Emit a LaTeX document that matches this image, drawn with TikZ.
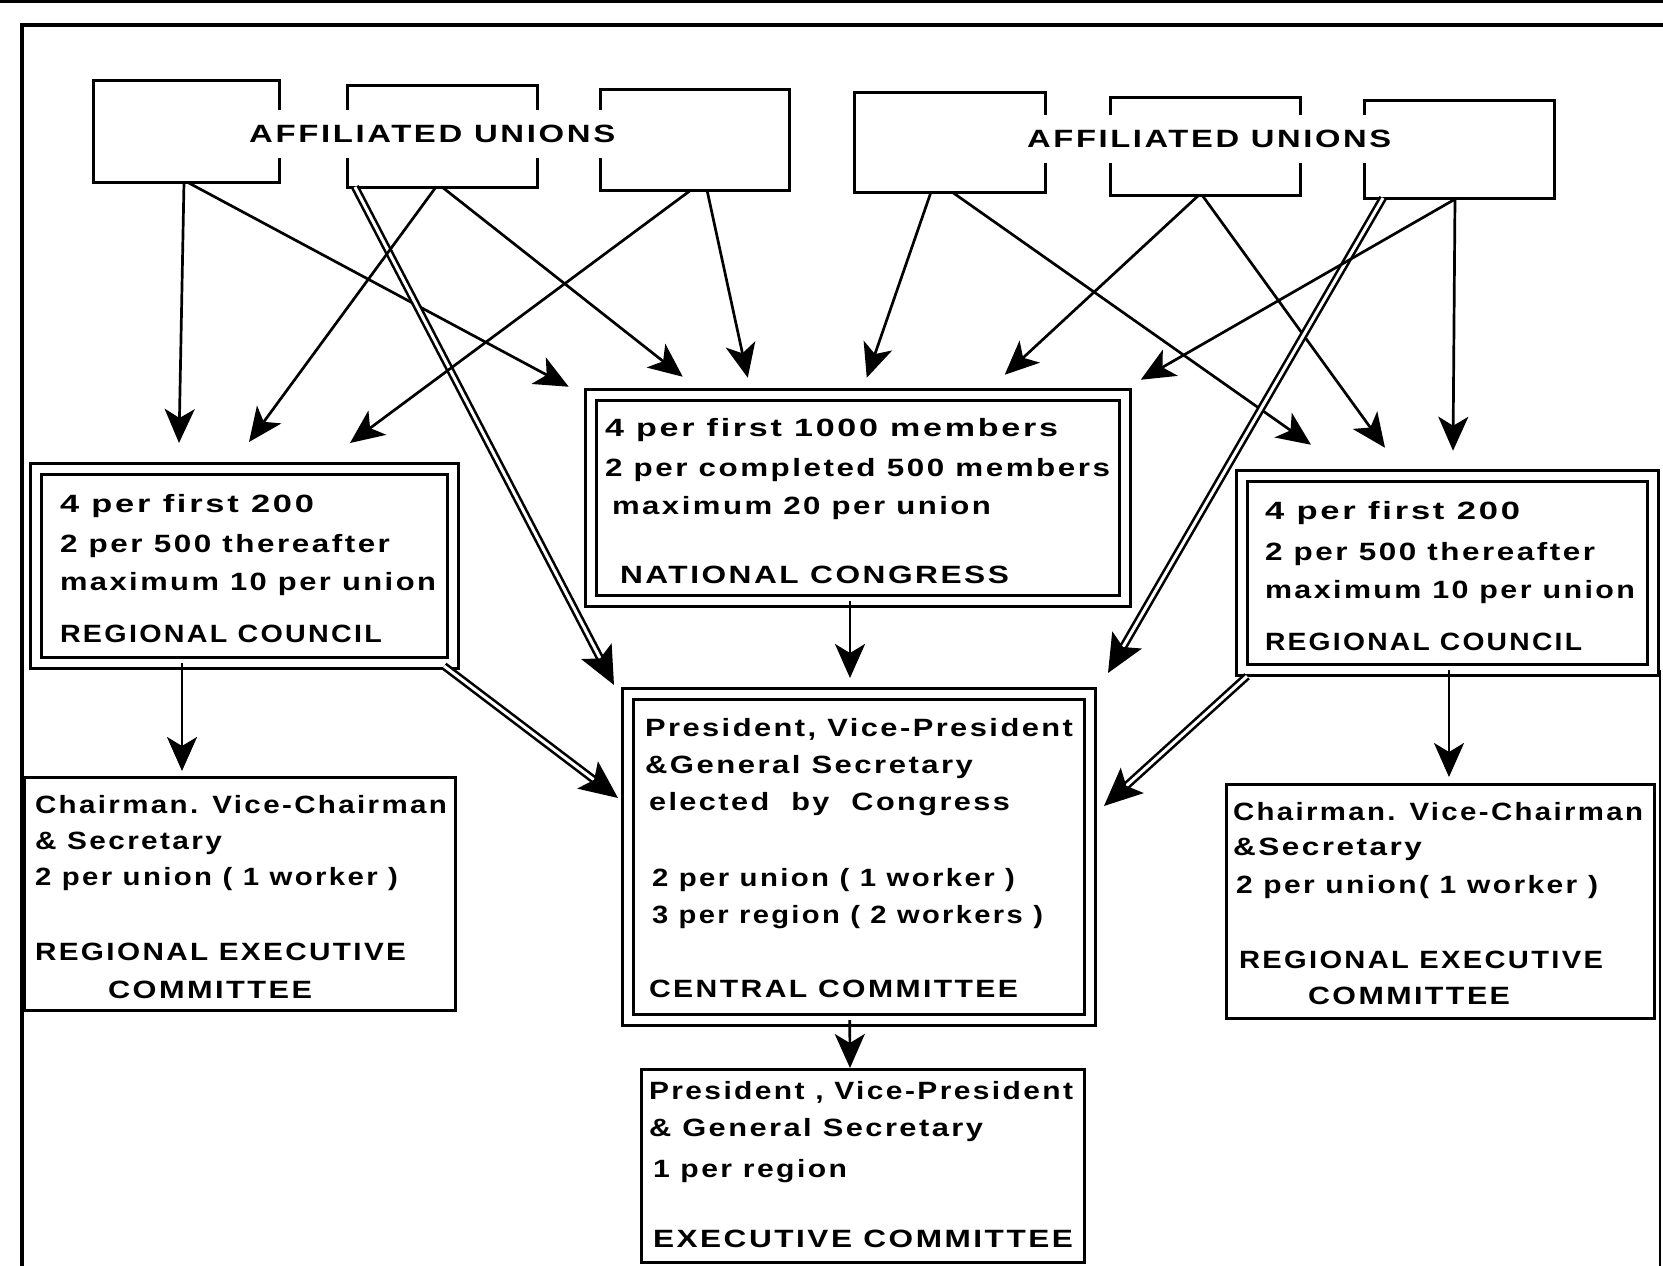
\documentclass[tikz,border=0pt]{standalone}
\usepackage{fontspec}
\usepackage{graphicx}
\setmainfont{Liberation Sans}[LetterSpace=8]
\usetikzlibrary{arrows.meta}
\newcommand{\fw}[2]{\resizebox{#1pt}{\height}{#2}}
\begin{document}
\begin{tikzpicture}[x=1pt,y=-1pt,
  font=\fontsize{25}{30}\selectfont\bfseries,
  ubox/.style={draw,line width=3pt,inner sep=0pt,outer sep=0pt},
  dbox/.style={draw,line width=3pt,double=white,double distance=8pt,inner sep=0pt,outer sep=0pt},
  txt/.style={anchor=base west,inner sep=0pt,outer sep=0pt},
  lab/.style={anchor=west,fill=white,inner xsep=3pt,inner ysep=0pt,minimum height=48pt},
  arr/.style={line width=2.7pt,-{Stealth[length=34pt,width=30pt,inset=9pt]}},
  darr/.style={line width=2.6pt,double=white,double distance=3pt,-{Stealth[length=38pt,width=34pt,inset=8pt]}}]
\useasboundingbox (0,0) rectangle (1663,1266);
% page rule and frame
\draw[line width=3pt] (0,1) -- (1663,1);
\draw[line width=3.5pt] (22,1266) -- (22,25) -- (1663,25);
\draw[line width=2.5pt] (1660,670) -- (1660,1266);

% affiliated unions boxes
\node[ubox,minimum width=186pt,minimum height=102pt] (u1) at (186,131) {};
\node[ubox,minimum width=190pt,minimum height=102pt] (u2) at (442,136) {};
\node[ubox,minimum width=189pt,minimum height=101pt] (u3) at (694.5,139.5) {};
\node[ubox,minimum width=191pt,minimum height=100pt] (u4) at (949.5,142) {};
\node[ubox,minimum width=190pt,minimum height=98pt] (u5) at (1205,146) {};
\node[ubox,minimum width=190pt,minimum height=98pt] (u6) at (1459,149) {};
\node[lab] (au1) at (246,134) {\fw{366}{AFFILIATED UNIONS}};
\node[lab] (au2) at (1024,139) {\fw{364}{AFFILIATED UNIONS}};

% boxes
\node[dbox,minimum width=534.5pt,minimum height=205.5pt] (nc) at (858,498) {};
\node[dbox,minimum width=417pt,minimum height=194pt] (lrc) at (244.5,566) {};
\node[dbox,minimum width=411pt,minimum height=194.5pt] (rrc) at (1447,573) {};
\node[dbox,minimum width=462.5pt,minimum height=326pt] (cc) at (858.75,857) {};
\node[ubox,minimum width=431pt,minimum height=233pt] (lrec) at (239.5,893.5) {};
\node[ubox,minimum width=428pt,minimum height=234pt] (rrec) at (1440,901) {};
\node[ubox,minimum width=443pt,minimum height=193pt] (ec) at (862.5,1165.5) {};

% national congress text
\node[txt] (nc1) at (605,436) {\fw{453}{4 per first 1000 members}};
\node[txt] (nc2) at (605,476) {\fw{505}{2 per completed 500 members}};
\node[txt] (nc3) at (612,514) {\fw{379}{maximum 20 per union}};
\node[txt] (nc4) at (620,583) {\fw{389}{NATIONAL CONGRESS}};

% left regional council
\node[txt] (lr1) at (60,512) {\fw{254}{4 per first 200}};
\node[txt] (lr2) at (60,552) {\fw{330}{2 per 500 thereafter}};
\node[txt] (lr3) at (60,590) {\fw{376}{maximum 10 per union}};
\node[txt] (lr4) at (60,642) {\fw{322}{REGIONAL COUNCIL}};

% right regional council
\node[txt] (rr1) at (1265,519) {\fw{255}{4 per first 200}};
\node[txt] (rr2) at (1265,560) {\fw{330}{2 per 500 thereafter}};
\node[txt] (rr3) at (1265,598) {\fw{370}{maximum 10 per union}};
\node[txt] (rr4) at (1265,650) {\fw{317}{REGIONAL COUNCIL}};

% left regional executive committee
\node[txt] (le1) at (35,813) {\fw{412}{Chairman. Vice-Chairman}};
\node[txt] (le2) at (35,849) {\fw{187}{\& Secretary}};
\node[txt] (le3) at (35,885) {\fw{363}{2 per union ( 1 worker )}};
\node[txt] (le4) at (35,960) {\fw{371}{REGIONAL EXECUTIVE}};
\node[txt] (le5) at (108,998) {\fw{204}{COMMITTEE}};

% right regional executive committee
\node[txt] (re1) at (1233,820) {\fw{410}{Chairman. Vice-Chairman}};
\node[txt] (re2) at (1233,855) {\fw{189}{\&Secretary}};
\node[txt] (re3) at (1236,893) {\fw{362}{2 per union( 1 worker )}};
\node[txt] (re4) at (1239,968) {\fw{364}{REGIONAL EXECUTIVE}};
\node[txt] (re5) at (1308,1004) {\fw{202}{COMMITTEE}};

% central committee
\node[txt] (cc1) at (645,736) {\fw{428}{President, Vice-President}};
\node[txt] (cc2) at (645,773) {\fw{328}{\&General Secretary}};
\node[txt] (cc3) at (649,810) {\fw{361}{elected\ \ by\ \ Congress}};
\node[txt] (cc4) at (652,886) {\fw{363}{2 per union ( 1 worker )}};
\node[txt] (cc5) at (652,923) {\fw{391}{3 per region ( 2 workers )}};
\node[txt] (cc6) at (649,997) {\fw{369}{CENTRAL COMMITTEE}};

% executive committee
\node[txt] (ec1) at (649,1099) {\fw{424}{President , Vice-President}};
\node[txt] (ec2) at (649,1136) {\fw{334}{\& General Secretary}};
\node[txt] (ec3) at (653,1177) {\fw{194}{1 per region}};
\node[txt] (ec4) at (653,1247) {\fw{420}{EXECUTIVE COMMITTEE}};

% arrows from unions
\draw[arr] ([xshift=91pt]u1.south west) -- ([xshift=143pt,yshift=26pt]lrc.north west);
\draw[arr] ([xshift=94pt]u1.south west) -- ([xshift=-22pt,yshift=8.5pt]nc.north west);
\draw[darr] ([xshift=8pt]u2.south west) -- ([xshift=-13.5pt,yshift=9pt]cc.north west);
\draw[arr] ([xshift=89pt]u2.south west) -- ([xshift=213pt,yshift=27pt]lrc.north west);
\draw[arr] ([xshift=95pt]u2.south west) -- ([xshift=92pt,yshift=18.5pt]nc.north west);
\draw[arr] ([xshift=91pt]u3.south west) -- ([xshift=314pt,yshift=26pt]lrc.north west);
\draw[arr] ([xshift=107pt]u3.south west) -- ([xshift=157pt,yshift=17.5pt]nc.north west);
\draw[arr] ([xshift=77pt]u4.south west) -- ([xshift=276pt,yshift=17.5pt]nc.north west);
\draw[arr] ([xshift=98pt]u4.south west) -- ([xshift=69.5pt,yshift=31pt]rrc.north west);
\draw[arr] ([xshift=89pt]u5.south west) -- ([xshift=414pt,yshift=20.5pt]nc.north west);
\draw[arr] ([xshift=92pt]u5.south west) -- ([xshift=143.5pt,yshift=28pt]rrc.north west);
\draw[darr] ([xshift=19pt]u6.south west) -- ([xshift=18pt,yshift=21pt]cc.north east);
\draw[arr] ([xshift=93pt]u6.south west) -- ([xshift=15.5pt,yshift=15.5pt]nc.north east);
\draw[arr] ([xshift=91pt]u6.south west) -- ([xshift=211.5pt,yshift=25pt]rrc.north west);

% lower arrows
\draw[arr] ([xshift=-8pt]nc.south) -- ([xshift=-8.75pt,yshift=16pt]cc.north);
\draw[arr] ([xshift=-9pt]cc.south) -- ([xshift=-12.5pt,yshift=1pt]ec.north);
\draw[arr] ([xshift=146pt]lrc.south west) -- ([xshift=158pt,yshift=6pt]lrec.north west);
\draw[darr] ([xshift=-9pt,yshift=-3pt]lrc.south east) -- ([xshift=-9.5pt,yshift=-104pt]cc.north west);
\draw[arr] ([xshift=207.5pt]rrc.south west) -- ([xshift=223pt,yshift=7pt]rrec.north west);
\draw[darr] ([xshift=5.5pt,yshift=-6pt]rrc.south west) -- ([xshift=14pt,yshift=-112pt]cc.north east);
\end{tikzpicture}
\end{document}
